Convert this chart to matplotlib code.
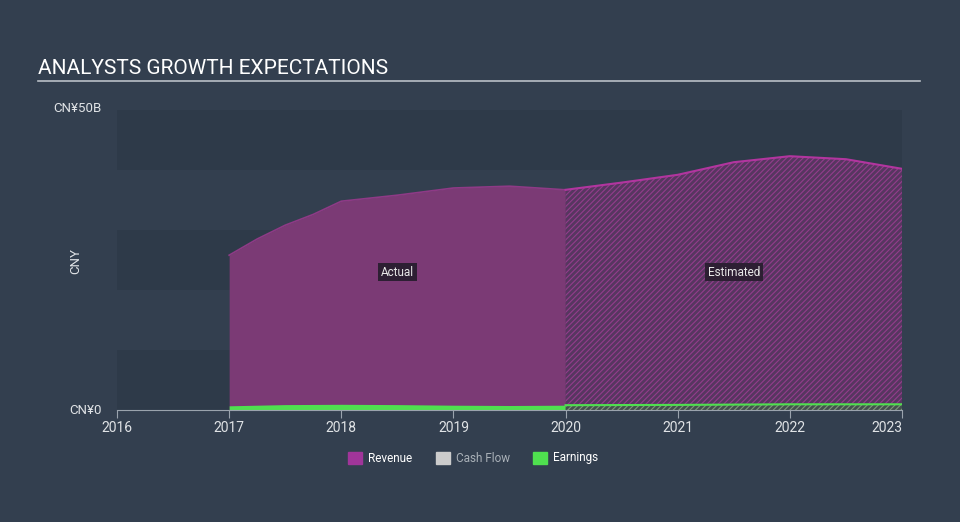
import matplotlib.pyplot as plt
import numpy as np

plt.rcParams['font.family'] = ['Roboto', 'DejaVu Sans']

# revenue, CNY billions
rev_years = [2017.0, 2017.25, 2017.5, 2017.75, 2018.0, 2018.25, 2018.5, 2019.0, 2019.5, 2020.0]
rev_vals = [25.8, 28.5, 30.8, 32.6, 34.8, 35.3, 35.8, 37.0, 37.3, 36.7]
est_years = [2020.0, 2020.5, 2021.0, 2021.5, 2022.0, 2022.5, 2023.0]
est_vals = [36.7, 37.9, 39.2, 41.3, 42.3, 41.8, 40.2]

# earnings, CNY billions
earn_years = [2017.0, 2017.5, 2018.0, 2018.5, 2019.0, 2019.5, 2020.0]
earn_vals = [0.7, 0.9, 0.95, 0.9, 0.8, 0.75, 0.8]
earn_est_years = [2020.0, 2021.0, 2022.0, 2023.0]
earn_est_vals = [0.8, 0.85, 0.95, 0.95]

xticks = [2016, 2017, 2018, 2019, 2020, 2021, 2022, 2023]

bg = '#333f4f'
band = '#2e3a49'
rev_fill = '#7b3a75'
rev_line = '#b2359f'
earn_col = '#4fe04f'

fig = plt.figure(figsize=(9.6, 5.22), dpi=100, facecolor=bg)
ax = fig.add_axes([117 / 960, 112 / 522, 785 / 960, 300 / 522])
ax.set_facecolor(bg)

for lo in [0, 20, 40]:
    ax.axhspan(lo, lo + 10, color=band, lw=0, zorder=0)

# actual
ax.fill_between(rev_years, rev_vals, 0, color=rev_fill, lw=0, zorder=2)
ax.plot(rev_years, rev_vals, color='#8e3a86', lw=1.2, zorder=3)

# estimated (hatched)
plt.rcParams['hatch.linewidth'] = 0.8
ax.fill_between(est_years, est_vals, 0, facecolor='#573660', edgecolor='#933d8c',
                hatch='//////', lw=0, zorder=2)
ax.plot(est_years, est_vals, color=rev_line, lw=1.5, zorder=3)

# earnings
ax.fill_between(earn_years, earn_vals, 0, color=earn_col, lw=0, zorder=4)
ax.fill_between(earn_est_years, earn_est_vals, 0, facecolor='#44504e', edgecolor='#7f9a7a',
                hatch='//////', lw=0, zorder=4)
ax.plot(earn_est_years, earn_est_vals, color=earn_col, lw=1.5, zorder=5)

ax.set_xlim(2016, 2023)
ax.set_ylim(0, 50)

for s in ['top', 'right', 'left']:
    ax.spines[s].set_visible(False)
ax.spines['bottom'].set_color('#9aa3ad')
ax.spines['bottom'].set_zorder(6)
ax.set_xticks(xticks)
ax.set_xticklabels([str(t) for t in xticks])
ax.tick_params(axis='x', colors='#9aa3ad', labelcolor='#e0e3e6', length=6, labelsize=10, pad=2)
ax.get_xticklabels()[-1].set_ha('right')
ax.set_yticks([])

ax.text(2018.5, 23, 'Actual', color='#e8e8e8', fontsize=8.5, ha='center', va='center', zorder=7,
        bbox=dict(boxstyle='square,pad=0.25', fc='#2d1f33', ec='none'))
ax.text(2021.5, 23, 'Estimated', color='#e8e8e8', fontsize=8.5, ha='center', va='center', zorder=7,
        bbox=dict(boxstyle='square,pad=0.25', fc='#2d1f33', ec='none'))

fig.text(38 / 960, 1 - 68 / 522, 'ANALYSTS GROWTH EXPECTATIONS', color='#ffffff', fontsize=15,
         ha='left', va='center')
fig.add_artist(plt.Line2D([38 / 960, 920 / 960], [1 - 81 / 522, 1 - 81 / 522], color='#b9bfc6', lw=1.2))

fig.text(102 / 960, 1 - 108 / 522, 'CN¥50B', color='#e0e3e6', fontsize=9.5, ha='right', va='center')
fig.text(102 / 960, 1 - 410 / 522, 'CN¥0', color='#e0e3e6', fontsize=9.5, ha='right', va='center')
fig.text(76 / 960, 1 - 261 / 522, 'CNY', color='#e0e3e6', fontsize=9.5, ha='center', va='center',
         rotation=90)

# legend
leg_items = [('Revenue', '#a0359a', '#ffffff', 348), ('Cash Flow', '#cccccc', '#aab1b8', 436),
             ('Earnings', earn_col, '#ffffff', 533)]
for label, col, tcol, x in leg_items:
    fig.patches.append(plt.Rectangle((x / 960, 1 - 464 / 522), 14 / 960, 12 / 522, color=col,
                                     transform=fig.transFigure, figure=fig))
    fig.text((x + 20) / 960, 1 - 458 / 522, label, color=tcol, fontsize=8.5, ha='left', va='center')

fig.savefig('out.png', dpi=100, facecolor=bg)
